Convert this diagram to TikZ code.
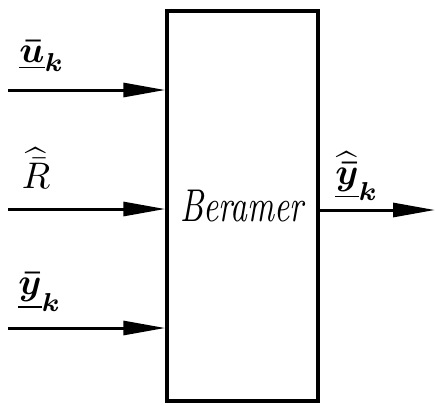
\documentclass[tikz,border=0pt]{standalone}
\usepackage{amsmath}
\usetikzlibrary{arrows.meta}
\begin{document}
\begin{tikzpicture}[x=1pt,y=-1pt,
  blockbox/.style={draw,line width=3.4pt,minimum width=151pt,minimum height=390pt,inner sep=0pt},
  sig/.style={line width=3pt,-{Triangle[length=42pt,width=14pt]}},
  lbl/.style={inner sep=0pt,scale=3.7,transform shape}]
\useasboundingbox (0,0) rectangle (435,405);
\node[blockbox] (box) at (242.5,206) {};
\node[inner sep=0pt,font=\itshape,xscale=3.3,yscale=4.6,transform shape] (name) at (242,206) {Beramer};
\coordinate (in1) at (8,90);
\coordinate (in2) at (8,209);
\coordinate (in3) at (8,328);
\coordinate (out) at (435,210);
\draw[sig] (in1) -- (box.west |- in1);
\draw[sig] (in2) -- (box.west |- in2);
\draw[sig] (in3) -- (box.west |- in3);
\draw[sig] (box.east |- out) -- (out);
\node[lbl] (l1) at (42,56) {$\boldsymbol{\underline{\bar{u}}_k}$};
\node[lbl] (l2) at (36,168) {$\widehat{\bar{R}}$};
\node[lbl] (l3) at (40,292) {$\boldsymbol{\underline{\bar{y}}_k}$};
\node[lbl] (l4) at (357,176) {$\boldsymbol{\underline{\widehat{\bar{y}}}_k}$};
\end{tikzpicture}
\end{document}
